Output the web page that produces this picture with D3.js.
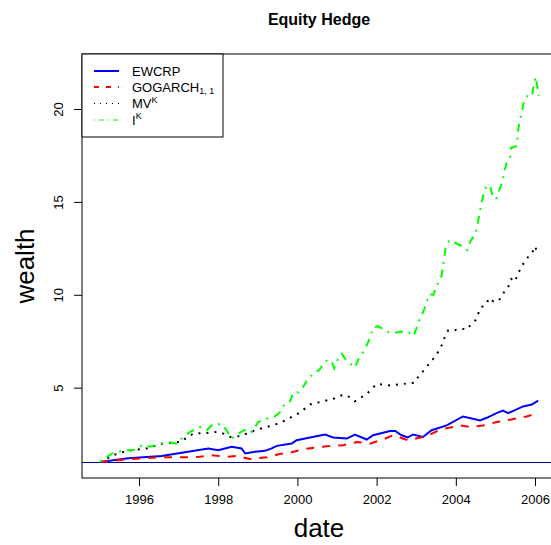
<!DOCTYPE html>
<html>
<head>
<meta charset="utf-8">
<script src="https://cdn.jsdelivr.net/npm/d3@7"></script>
<style>
  body { margin: 0; background: #fff; }
  text { font-family: "Liberation Sans", Arial, sans-serif; }
</style>
</head>
<body>
<svg id="chart" width="551" height="545"></svg>
<script>
// wealth paths, [fractional year, wealth]
var ewcrp = [
  [1995.02, 1.00], [1995.73, 1.20], [1996.57, 1.32], [1997.08, 1.50], [1997.75, 1.73],
  [1998.00, 1.64], [1998.34, 1.82], [1998.59, 1.73], [1998.68, 1.46], [1998.93, 1.55],
  [1999.18, 1.60], [1999.35, 1.73], [1999.48, 1.87], [1999.86, 2.00], [1999.98, 2.17],
  [2000.32, 2.32], [2000.70, 2.48], [2000.90, 2.32], [2001.25, 2.26], [2001.45, 2.48],
  [2001.75, 2.21], [2001.91, 2.44], [2002.34, 2.67], [2002.47, 2.67], [2002.63, 2.44],
  [2002.79, 2.32], [2002.92, 2.48], [2003.17, 2.35], [2003.39, 2.71], [2003.77, 2.97],
  [2004.18, 3.45], [2004.43, 3.33], [2004.61, 3.24], [2004.78, 3.38], [2005.03, 3.63],
  [2005.19, 3.77], [2005.32, 3.63], [2005.44, 3.74], [2005.70, 3.99], [2005.92, 4.09],
  [2006.08, 4.30]
];

var gogarch = [
  [1995.02, 1.00], [1995.77, 1.16], [1996.45, 1.25], [1997.04, 1.25], [1997.54, 1.28],
  [1997.79, 1.37], [1998.21, 1.28], [1998.47, 1.33], [1998.80, 1.16], [1999.22, 1.25],
  [1999.55, 1.43], [1999.81, 1.50], [2000.14, 1.68], [2000.57, 1.82], [2001.15, 1.90],
  [2001.50, 2.08], [2001.83, 1.99], [2002.16, 2.21], [2002.41, 2.44], [2002.79, 2.17],
  [2003.27, 2.39], [2003.60, 2.74], [2004.11, 2.97], [2004.40, 2.88], [2004.69, 2.97],
  [2005.03, 3.15], [2005.37, 3.28], [2005.79, 3.45], [2006.08, 3.65]
];

var mvk = [
  [1995.02, 1.00], [1995.35, 1.37], [1995.69, 1.60], [1996.19, 1.73], [1996.61, 2.00],
  [1997.04, 2.08], [1997.37, 2.53], [1997.67, 2.56], [1997.96, 2.62], [1998.13, 2.53],
  [1998.30, 2.35], [1998.55, 2.39], [1998.72, 2.53], [1998.97, 2.74], [1999.22, 2.88],
  [1999.56, 3.10], [1999.81, 3.38], [2000.06, 3.65], [2000.31, 4.09], [2000.65, 4.27],
  [2000.91, 4.40], [2001.16, 4.63], [2001.33, 4.48], [2001.45, 4.27], [2001.75, 4.66],
  [2002.00, 5.20], [2002.34, 5.12], [2002.67, 5.20], [2002.97, 5.28], [2003.05, 5.59],
  [2003.18, 5.90], [2003.28, 6.17], [2003.39, 6.44], [2003.50, 6.76], [2003.60, 7.06],
  [2003.67, 7.42], [2003.73, 7.77], [2003.81, 8.09], [2003.96, 8.09], [2004.13, 8.18],
  [2004.28, 8.13], [2004.38, 8.40], [2004.50, 8.64], [2004.63, 9.32], [2004.76, 9.46],
  [2004.84, 9.82], [2004.95, 9.64], [2005.05, 9.64], [2005.17, 9.90], [2005.24, 10.26],
  [2005.34, 10.49], [2005.40, 10.85], [2005.50, 10.71], [2005.55, 11.06], [2005.64, 11.42],
  [2005.72, 11.74], [2005.81, 12.00], [2005.92, 12.22], [2006.00, 12.61], [2006.07, 12.22]
];

var ik = [
  [1995.02, 1.00], [1995.22, 1.32], [1995.35, 1.50], [1995.60, 1.60], [1995.86, 1.64],
  [1996.07, 1.90], [1996.28, 1.82], [1996.49, 1.96], [1996.70, 2.08], [1996.95, 1.99],
  [1997.12, 2.35], [1997.29, 2.62], [1997.54, 2.88], [1997.71, 2.71], [1997.88, 3.06],
  [1998.09, 3.03], [1998.21, 2.71], [1998.34, 2.26], [1998.51, 2.53], [1998.72, 2.80],
  [1998.85, 2.62], [1999.01, 3.15], [1999.22, 3.33], [1999.43, 3.45], [1999.56, 3.68],
  [1999.68, 4.13], [1999.81, 4.25], [1999.90, 4.75], [2000.02, 4.75], [2000.15, 5.05],
  [2000.28, 5.55], [2000.42, 5.73], [2000.57, 6.00], [2000.70, 6.44], [2000.85, 6.48],
  [2000.93, 6.05], [2001.01, 6.48], [2001.12, 6.83], [2001.23, 6.48], [2001.37, 6.23],
  [2001.45, 6.08], [2001.56, 6.62], [2001.68, 6.97], [2001.79, 7.47], [2001.92, 8.25],
  [2002.03, 8.31], [2002.19, 8.13], [2002.34, 7.95], [2002.46, 7.95], [2002.72, 8.04],
  [2002.80, 8.00], [2002.93, 7.77], [2003.01, 8.22], [2003.10, 8.75], [2003.20, 9.20],
  [2003.33, 10.03], [2003.43, 10.00], [2003.53, 10.53], [2003.63, 10.92], [2003.68, 11.60],
  [2003.74, 12.48], [2003.83, 12.93], [2003.98, 12.80], [2004.16, 12.61], [2004.29, 12.40],
  [2004.38, 12.93], [2004.50, 13.26], [2004.54, 13.73], [2004.59, 14.26], [2004.63, 14.76],
  [2004.69, 15.33], [2004.76, 15.77], [2004.86, 15.90], [2004.93, 15.29], [2005.02, 15.15],
  [2005.10, 15.65], [2005.18, 16.08], [2005.22, 16.57], [2005.28, 17.07], [2005.37, 17.32],
  [2005.39, 17.90], [2005.52, 18.00], [2005.56, 18.49], [2005.58, 18.97], [2005.66, 19.77],
  [2005.72, 20.40], [2005.81, 20.70], [2005.92, 20.66], [2005.96, 21.16], [2006.01, 21.73],
  [2006.06, 21.20], [2006.09, 20.70]
];

var xTicks = [1996, 1998, 2000, 2002, 2004, 2006];
var yTicks = [5, 10, 15, 20];
var baseline = 1;

var series = [
  { name: "EWCRP", data: ewcrp, color: "#0000ff", dash: null },
  { name: "GOGARCH", sub: "1, 1", data: gogarch, color: "#ff0000", dash: "8,8" },
  { name: "MV", sup: "K", data: mvk, color: "#000000", dash: "2,6" },
  { name: "I", sup: "K", data: ik, color: "#00ff00", dash: "2,6,8,6" }
];

function draw() {
  var svg = d3.select("#chart");
  var pLeft = 82, pRight = 556, pTop = 54, pBottom = 478;

  // R style: pad data range by 4%
  var x = d3.scaleLinear().domain([1994.56, 2006.53]).range([pLeft, pRight]);
  var y = d3.scaleLinear().domain([0.139, 22.96]).range([pBottom, pTop]);

  svg.append("text")
    .attr("x", 319).attr("y", 25)
    .attr("text-anchor", "middle")
    .attr("font-size", 16).attr("font-weight", "bold")
    .text("Equity Hedge");

  var line = d3.line().x(d => x(d[0])).y(d => y(d[1]));

  var plot = svg.append("g");

  plot.append("line")
    .attr("x1", pLeft).attr("x2", pRight)
    .attr("y1", Math.round(y(baseline)) + 0.5).attr("y2", Math.round(y(baseline)) + 0.5)
    .attr("stroke", "#00008b").attr("stroke-width", 1.2);

  plot.selectAll("path.series")
    .data(series)
    .enter().append("path")
    .attr("class", "series")
    .attr("d", d => line(d.data))
    .attr("fill", "none")
    .attr("stroke", d => d.color)
    .attr("stroke-width", 2)
    .attr("stroke-dasharray", d => d.dash);

  // axes
  var xAxis = svg.append("g")
    .attr("transform", "translate(0," + pBottom + ")")
    .call(d3.axisBottom(x).tickValues(xTicks).tickFormat(d3.format("d")).tickSize(8).tickPadding(9));
  xAxis.select(".domain").remove();
  xAxis.selectAll("text").attr("font-size", 13).attr("font-family", null).attr("fill", "#000");
  xAxis.selectAll("line").attr("stroke", "#000");

  var yAxis = svg.append("g")
    .attr("transform", "translate(" + pLeft + ",0)")
    .call(d3.axisLeft(y).tickValues(yTicks).tickSize(8));
  yAxis.select(".domain").remove();
  yAxis.selectAll("line").attr("stroke", "#000");
  yAxis.selectAll("text")
    .attr("font-size", 13).attr("font-family", null).attr("fill", "#000")
    .attr("x", null).attr("dy", null)
    .attr("text-anchor", "middle")
    .attr("transform", "translate(-19,0) rotate(-90)");

  svg.append("rect")
    .attr("x", pLeft).attr("y", pTop)
    .attr("width", pRight - pLeft).attr("height", pBottom - pTop)
    .attr("fill", "none").attr("stroke", "#000").attr("stroke-width", 1);

  svg.append("text")
    .attr("x", 319).attr("y", 537)
    .attr("text-anchor", "middle").attr("font-size", 26)
    .text("date");

  svg.append("text")
    .attr("transform", "translate(34,266) rotate(-90)")
    .attr("text-anchor", "middle").attr("font-size", 26)
    .text("wealth");

  // legend
  var legendRows = [71, 87, 103.5, 120];
  var legend = svg.append("g");
  legend.append("rect")
    .attr("x", pLeft).attr("y", pTop)
    .attr("width", 141).attr("height", 83)
    .attr("fill", "#fff").attr("stroke", "#000");

  var item = legend.selectAll("g.item")
    .data(series)
    .enter().append("g")
    .attr("class", "item")
    .attr("transform", (d, i) => "translate(0," + legendRows[i] + ")");

  item.append("line")
    .attr("x1", 94).attr("x2", 119)
    .attr("stroke", d => d.color)
    .attr("stroke-width", (d, i) => i < 2 ? 2 : 1)
    .attr("stroke-dasharray", (d, i) => i == 1 ? "5,7" : (i == 2 ? "1,5" : (i == 3 ? "1,4,5,4" : null)));

  var label = item.append("text")
    .attr("x", 132).attr("y", 0).attr("dy", "0.35em")
    .attr("font-size", 13);
  label.append("tspan").text(d => d.name);
  label.filter(d => d.sub).append("tspan")
    .attr("font-size", 9).attr("dy", 2.5).text(d => d.sub);
  label.filter(d => d.sup).append("tspan")
    .attr("font-size", 9).attr("dy", -5.5).text(d => d.sup);
}

draw();
</script>
</body>
</html>
